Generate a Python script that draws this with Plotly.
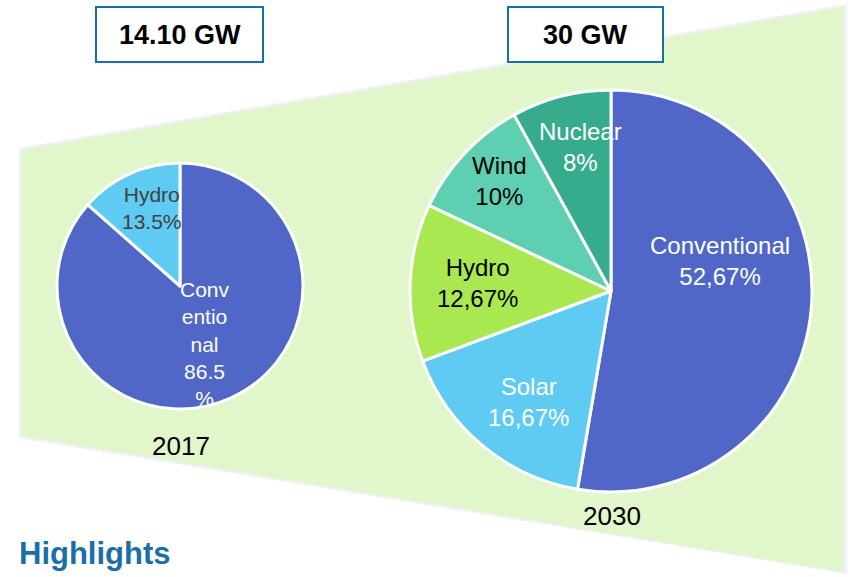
import plotly.graph_objects as go

# ---- data ----
labels_2017 = ["Conventional", "Hydro"]
values_2017 = [86.5, 13.5]
text_2017 = ["Conv<br>entio<br>nal<br>86.5<br>%", "Hydro<br>13.5%"]

labels_2030 = ["Conventional", "Solar", "Hydro", "Wind", "Nuclear"]
values_2030 = [52.67, 16.67, 12.67, 10, 8]
text_2030 = ["Conventional<br>52,67%", "Solar<br>16,67%", "Hydro<br>12,67%", "Wind<br>10%", "Nuclear<br>8%"]

totals = ["14.10 GW", "30 GW"]
years = ["2017", "2030"]
heading = "Highlights"

# ---- styles / layout positions ----
W, H = 850, 577
FONT = "Liberation Sans"
col_2017 = ["#5067C8", "#5FCBF2"]
txt_2017 = ["#FFFFFF", "#404040"]
col_2030 = ["#5067C8", "#5FCBF2", "#AAE852", "#5ECFB1", "#36AC8C"]
txt_2030 = ["#FFFFFF", "#FFFFFF", "#000000", "#000000", "#FFFFFF"]
# label anchor positions (pixels) for slice labels
pos_2017 = [(205, 344), (152, 208)]
pos_2030 = [(720, 261), (528, 402), (477, 283), (499, 181), (580, 147)]


def dom(x0, x1, y0, y1):
    return dict(x=[x0 / W, x1 / W], y=[1 - y1 / H, 1 - y0 / H])


fig = go.Figure()

fig.add_trace(go.Pie(
    labels=labels_2017, values=values_2017,
    textinfo="none", sort=False, direction="clockwise", rotation=0,
    marker=dict(colors=col_2017, line=dict(color="white", width=3)),
    domain=dom(57, 303, 163, 409), showlegend=False, hoverinfo="label+percent",
))

fig.add_trace(go.Pie(
    labels=labels_2030, values=values_2030,
    textinfo="none", sort=False, direction="clockwise", rotation=0,
    marker=dict(colors=col_2030, line=dict(color="white", width=3)),
    domain=dom(410, 812, 90, 492), showlegend=False, hoverinfo="label+percent",
))

shapes = [
    # soft edge
    dict(type="path", xref="x", yref="y", layer="below",
         path="M 19,148 L 847,4 L 847,574 L 19,438 Z",
         fillcolor="rgba(238,241,250,1)", line=dict(width=0)),
    dict(type="path", xref="x", yref="y", layer="below",
         path="M 21,150 L 844,7 L 844,572 L 21,436 Z",
         fillcolor="#E1F6CB", line=dict(width=0)),
    # header boxes
    dict(type="rect", xref="x", yref="y", x0=96, x1=263, y0=7, y1=62,
         fillcolor="white", line=dict(color="#1570A6", width=2)),
    dict(type="rect", xref="x", yref="y", x0=508, x1=663, y0=7, y1=62,
         fillcolor="white", line=dict(color="#1570A6", width=2)),
]

annotations = [
    dict(x=180, y=35, text=totals[0], font=dict(family=FONT, size=27, color="#000000", weight=600)),
    dict(x=585.5, y=35, text=totals[1], font=dict(family=FONT, size=27, color="#000000", weight=600)),
    dict(x=181, y=446, text=years[0], font=dict(family=FONT, size=26, color="#000000")),
    dict(x=612, y=516, text=years[1], font=dict(family=FONT, size=26, color="#000000")),
    dict(x=17, y=553, text=heading, xanchor="left", font=dict(family=FONT, size=31, color="#1A6FA8", weight=600)),
]
for t, (px, py), c in zip(text_2017, pos_2017, txt_2017):
    annotations.append(dict(x=px, y=py, text=t, font=dict(family=FONT, size=21, color=c)))
for t, (px, py), c in zip(text_2030, pos_2030, txt_2030):
    annotations.append(dict(x=px, y=py, text=t, font=dict(family=FONT, size=24, color=c)))
for a in annotations:
    a.update(xref="x", yref="y", showarrow=False)
    a.setdefault("xanchor", "center")
    a.setdefault("yanchor", "middle")

fig.update_layout(
    width=W, height=H, margin=dict(l=0, r=0, t=0, b=0),
    paper_bgcolor="white", plot_bgcolor="white",
    xaxis=dict(range=[0, W], visible=False, fixedrange=True),
    yaxis=dict(range=[H, 0], visible=False, fixedrange=True),
    shapes=shapes, annotations=annotations,
    font=dict(family=FONT),
)

fig.write_html(
    "out.html",
    config={"displayModeBar": False},
    post_script="document.body.style.margin='0';document.body.style.overflow='hidden';",
)
